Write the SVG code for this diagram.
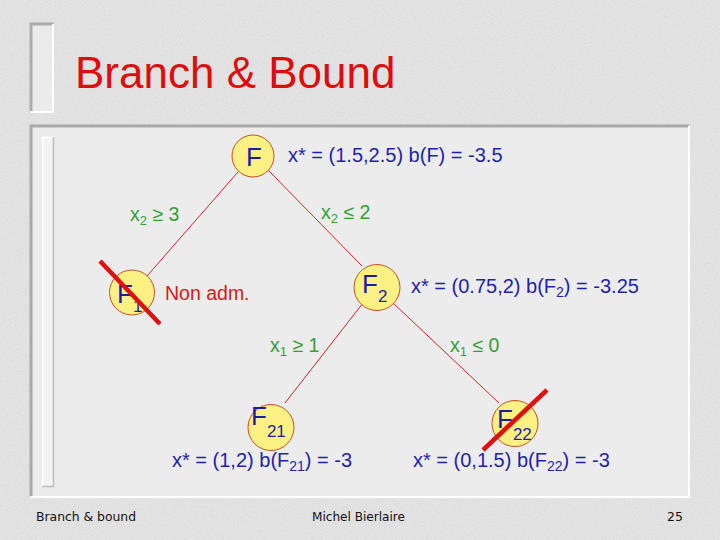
<svg xmlns="http://www.w3.org/2000/svg" width="720" height="540" viewBox="0 0 720 540">
<defs>
<filter id="noise" x="0" y="0" width="100%" height="100%">
<feTurbulence type="fractalNoise" baseFrequency="0.9" numOctaves="2" seed="3" result="t"/>
<feColorMatrix in="t" type="matrix" values="0 0 0 0 0  0 0 0 0 0  0 0 0 0 0  0 0 0 -1.2 0.75" result="a"/>
<feComposite in="SourceGraphic" in2="a" operator="in"/>
</filter>
<style>
.node circle{fill:#fdf184;stroke:#c8501e;stroke-width:1}
.nl{font-family:"Liberation Sans",Arial,sans-serif;font-size:26px;fill:#1c1ca8}
.sub{font-size:17px}
.info{font-family:"Liberation Sans",Arial,sans-serif;font-size:20px;fill:#1f1fb0}
.br{font-family:"Liberation Sans",Arial,sans-serif;font-size:19.5px;fill:#33a033}
.cross{stroke:#e01010;stroke-width:4.5;stroke-linecap:butt}
.foot{font-family:"DejaVu Sans",Tahoma,sans-serif;font-size:12.5px;fill:#111}
#connectors line{stroke:#d82020;stroke-width:1}
</style>
</defs>
<rect width="720" height="540" fill="#e4e4e4"/>
<rect width="720" height="540" fill="#bdbdbd" filter="url(#noise)" opacity="0.45"/>
<g id="title-bracket">
<rect x="30" y="23" width="24" height="90" fill="#ebebeb"/>
<path d="M31 113 V24 H54" fill="none" stroke="#acacac" stroke-width="3"/>
<path d="M53 24 V112 H30" fill="none" stroke="#ffffff" stroke-width="2"/>
</g>
<text x="75" y="88" font-family="'Liberation Sans',Arial,sans-serif" font-size="44" fill="#e00b0b">Branch &amp; Bound</text>
<g id="panel">
<rect x="30" y="125" width="659" height="372" fill="#ececec"/>
<path d="M31 497 V126 H689" fill="none" stroke="#a9a9a9" stroke-width="3"/>
<path d="M689 126 V497 H30" fill="none" stroke="#ffffff" stroke-width="2"/>
<rect x="42" y="137" width="12" height="350" fill="#f3f3f3"/>
<path d="M42.5 487 V137.5 H54" fill="none" stroke="#ffffff" stroke-width="1.5"/>
<path d="M53.5 137 V486.5 H42" fill="none" stroke="#bcbcbc" stroke-width="1.5"/>
</g>
<g id="connectors">
<line x1="238" y1="172" x2="147" y2="276"/>
<line x1="268" y1="170" x2="362" y2="266"/>
<line x1="363" y1="303" x2="285" y2="403"/>
<line x1="392" y1="302" x2="499" y2="403"/>
</g>
<g id="node-F" class="node">
<circle cx="253" cy="156" r="21"/>
<text class="nl" x="254" y="165.5" text-anchor="middle">F</text>
</g>
<g id="node-F1" class="node">
<circle cx="132" cy="292.5" r="22.5"/>
<text class="nl" x="117" y="303">F<tspan class="sub" dy="9">1</tspan></text>
<line class="cross" x1="100" y1="261" x2="160" y2="324"/>
</g>
<g id="node-F2" class="node">
<circle cx="377" cy="287.5" r="23"/>
<text class="nl" x="362" y="292.5">F<tspan class="sub" dy="9">2</tspan></text>
</g>
<g id="node-F21" class="node">
<circle cx="271" cy="427.5" r="23"/>
<text class="nl" x="251" y="425">F<tspan class="sub" dy="12">21</tspan></text>
</g>
<g id="node-F22" class="node">
<circle cx="515" cy="423.5" r="23"/>
<text class="nl" x="497" y="428">F<tspan class="sub" dy="12">22</tspan></text>
<line class="cross" x1="547" y1="390" x2="483" y2="450"/>
</g>
<g id="labels">
<text class="info" x="288" y="162">x* = (1.5,2.5) b(F) = -3.5</text>
<text class="info" x="411" y="293">x* = (0.75,2) b(F<tspan font-size="14" dy="4">2</tspan><tspan dy="-4">) = -3.25</tspan></text>
<text class="info" x="172" y="467">x* = (1,2) b(F<tspan font-size="14" dy="4">21</tspan><tspan dy="-4">) = -3</tspan></text>
<text class="info" x="413" y="467">x* = (0,1.5) b(F<tspan font-size="14" dy="4">22</tspan><tspan dy="-4">) = -3</tspan></text>
<text x="165" y="300" font-family="'Liberation Sans',Arial,sans-serif" font-size="19.5" fill="#dd1515">Non adm.</text>
<text class="br" x="130" y="221">x<tspan font-size="13" dy="4">2</tspan><tspan dy="-4"> ≥ 3</tspan></text>
<text class="br" x="321" y="219">x<tspan font-size="13" dy="4">2</tspan><tspan dy="-4"> ≤ 2</tspan></text>
<text class="br" x="270" y="352">x<tspan font-size="13" dy="4">1</tspan><tspan dy="-4"> ≥ 1</tspan></text>
<text class="br" x="450" y="352">x<tspan font-size="13" dy="4">1</tspan><tspan dy="-4"> ≤ 0</tspan></text>
</g>
<g id="footer">
<text class="foot" x="36" y="521" textLength="100" lengthAdjust="spacingAndGlyphs">Branch &amp; bound</text>
<text class="foot" x="312" y="521" textLength="93" lengthAdjust="spacingAndGlyphs">Michel Bierlaire</text>
<text class="foot" x="683" y="521" text-anchor="end">25</text>
</g>
</svg>
